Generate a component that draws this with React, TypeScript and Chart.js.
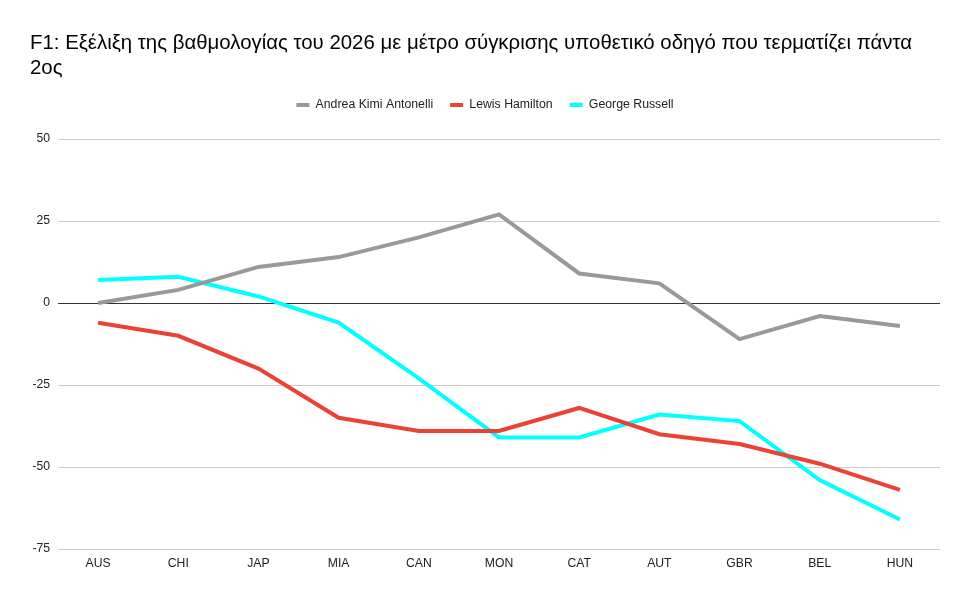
import React, { useEffect, useRef } from "react";
import { Chart, registerables } from "chart.js";

Chart.register(...registerables);

const TITLE_LINES = [
  "F1: Εξέλιξη της βαθμολογίας του 2026 με μέτρο σύγκρισης υποθετικό οδηγό που τερματίζει πάντα",
  "2ος",
];
const CATEGORIES = ["AUS", "CHI", "JAP", "MIA", "CAN", "MON", "CAT", "AUT", "GBR", "BEL", "HUN"];
const ANTONELLI = [0, 4, 11, 14, 20, 27, 9, 6, -11, -4, -7];
const HAMILTON = [-6, -10, -20, -35, -39, -39, -32, -40, -43, -49, -57];
const RUSSELL = [7, 8, 2, -6, -23, -41, -41, -34, -36, -54, -66];
const SERIES_NAMES = ["Andrea Kimi Antonelli", "Lewis Hamilton", "George Russell"];
const SERIES_COLORS = ["#999999", "#ea4335", "#00ffff"];
const Y_MIN = -75;
const Y_MAX = 50;
const Y_STEP = 25;

const FONT = "'Liberation Sans', Arial, sans-serif";
const TITLE_SIZE = 20.4;
const TITLE_LH = 1.27;
const TITLE_PAD_TOP = 30;
const PLOT_TOP = 139;

export default function App() {
  const canvasRef = useRef<HTMLCanvasElement | null>(null);

  useEffect(() => {
    if (!canvasRef.current) return;
    const titleHeight = TITLE_PAD_TOP + 2 * TITLE_SIZE * TITLE_LH;
    const legendHeightPlugin = {
      id: "legendHeightFix",
      beforeLayout(chart: any) {
        const lg = chart.legend;
        if (lg && !lg.__patched) {
          const orig = lg.fit.bind(lg);
          lg.fit = function () {
            orig();
            this.height = PLOT_TOP - titleHeight;
          };
          lg.__patched = true;
        }
      },
    };
    const values = [ANTONELLI, HAMILTON, RUSSELL];
    const chart = new Chart(canvasRef.current, {
      type: "line",
      data: {
        labels: CATEGORIES,
        datasets: values.map((v, i) => ({
          label: SERIES_NAMES[i],
          data: v,
          borderColor: SERIES_COLORS[i],
          backgroundColor: SERIES_COLORS[i],
          borderWidth: 4,
          pointRadius: 0,
          pointHoverRadius: 0,
          tension: 0,
          fill: false,
        })),
      },
      options: {
        animation: false,
        responsive: true,
        maintainAspectRatio: false,
        layout: { padding: { left: 30, right: 30, top: 0, bottom: 0 } },
        plugins: {
          title: {
            display: true,
            text: TITLE_LINES,
            align: "start",
            color: "#000000",
            font: { family: FONT, size: TITLE_SIZE, weight: "normal", lineHeight: TITLE_LH },
            padding: { top: TITLE_PAD_TOP, bottom: 0 },
          },
          legend: {
            display: true,
            position: "top",
            align: "center",
            labels: {
              boxWidth: 13,
              boxHeight: 4,
              padding: 17,
              color: "#222222",
              font: { family: FONT, size: 12.3 },
              generateLabels(chart: any) {
                const items = Chart.defaults.plugins.legend.labels.generateLabels(chart);
                return items.map((it: any) => ({ ...it, lineWidth: 0, strokeStyle: "transparent" }));
              },
            },
          },
          tooltip: { enabled: false },
        },
        scales: {
          x: {
            offset: true,
            grid: { display: false, drawTicks: false },
            border: { display: false },
            ticks: {
              color: "#222222",
              font: { family: FONT, size: 12.2 },
              padding: 7,
              maxRotation: 0,
              autoSkip: false,
            },
            afterFit(scale: any) {
              scale.height = 51;
            },
          },
          y: {
            min: Y_MIN,
            max: Y_MAX,
            grid: {
              drawTicks: false,
              color: (ctx: any) => (ctx.tick && ctx.tick.value === 0 ? "#333333" : "#cccccc"),
              lineWidth: 1,
            },
            border: { display: false },
            ticks: {
              stepSize: Y_STEP,
              color: "#222222",
              font: { family: FONT, size: 12.2 },
              padding: 8,
            },
            afterFit(scale: any) {
              scale.width = 28;
            },
          },
        },
      },
      plugins: [legendHeightPlugin],
    } as any);
    return () => chart.destroy();
  }, []);

  return (
    <div style={{ position: "fixed", left: 0, top: 0, width: 970, height: 600, background: "#ffffff" }}>
      <canvas ref={canvasRef} />
    </div>
  );
}
